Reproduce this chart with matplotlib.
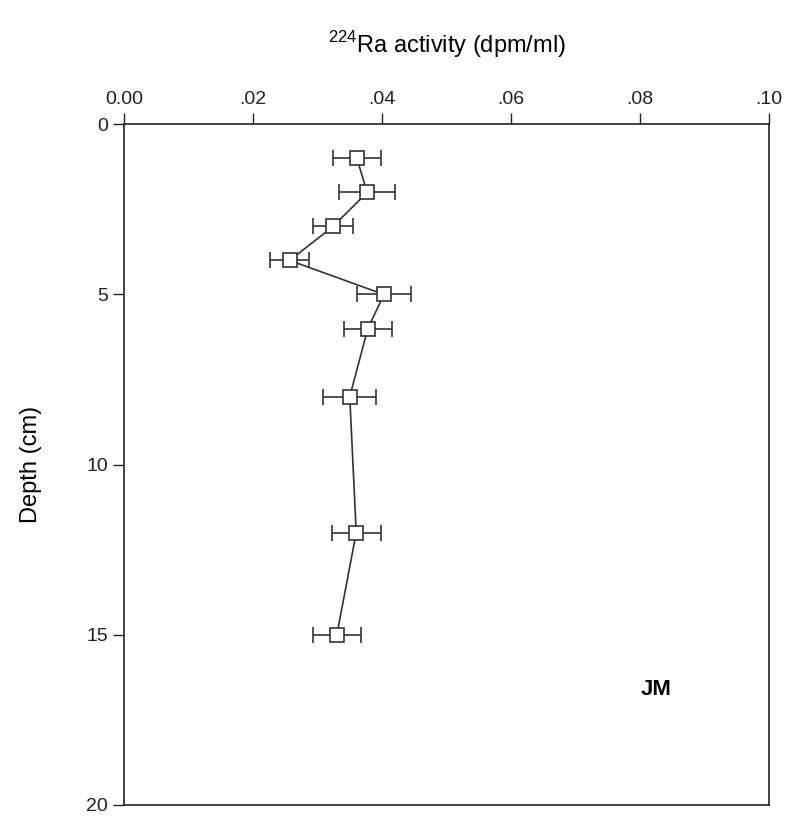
import matplotlib
matplotlib.use("Agg")
import matplotlib.pyplot as plt

plt.rcParams['font.family'] = ['Liberation Sans', 'DejaVu Sans']
plt.rcParams['mathtext.fontset'] = 'custom'
plt.rcParams['mathtext.rm'] = 'Liberation Sans'

depth = [1, 2, 3, 4, 5, 6, 8, 12, 15]
ra224 = [0.0361, 0.0377, 0.0324, 0.0257, 0.0403, 0.0378, 0.0350, 0.0360, 0.0330]
err = [0.0037, 0.0043, 0.0031, 0.0030, 0.0042, 0.0037, 0.0041, 0.0038, 0.0037]

fig = plt.figure(figsize=(7.89, 8.18), dpi=100)
ax = fig.add_axes([0.157, 0.016, 0.818, 0.832])

ax.errorbar(ra224, depth, xerr=err, color='#333333', lw=1.2, marker='s', ms=10,
            mfc='white', mec='#333333', mew=1.2, capsize=6, elinewidth=1.2, capthick=1.2)

ax.set_xlim(0, 0.10)
ax.set_ylim(20, 0)
ax.set_xticks([0, 0.02, 0.04, 0.06, 0.08, 0.10])
ax.set_xticklabels(['0.00', '.02', '.04', '.06', '.08', '.10'])
ax.set_yticks([0, 5, 10, 15, 20])
ax.xaxis.tick_top()
ax.xaxis.set_label_position('top')
ax.tick_params(labelsize=14, length=8, width=1, colors='#222222')
ax.set_xlabel(r'$^{\mathrm{224}}$Ra activity (dpm/ml)', fontsize=17, labelpad=28)
ax.set_ylabel('Depth (cm)', fontsize=17, labelpad=32)
for s in ax.spines.values():
    s.set_linewidth(1.2)
    s.set_color('#222222')

ax.text(0.0825, 16.6, 'JM', fontsize=16, fontweight='bold', ha='center', va='center')

fig.savefig('out.png', dpi=100)
